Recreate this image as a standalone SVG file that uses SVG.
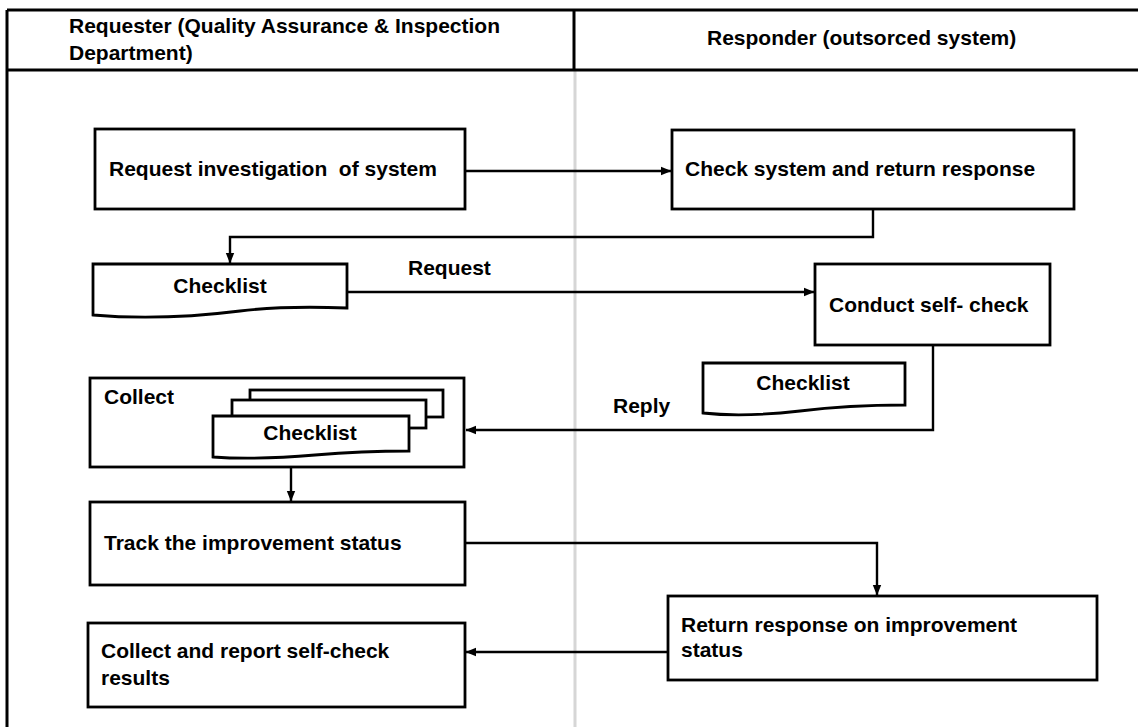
<svg xmlns="http://www.w3.org/2000/svg" width="1138" height="727" viewBox="0 0 1138 727">
  <style>
    .box { fill: #ffffff; stroke: #000000; stroke-width: 2.8; }
    .frame { fill: none; stroke: #000000; stroke-width: 3; }
    .lane { fill: none; stroke: #d6d6d6; stroke-width: 3; }
    .conn { fill: none; stroke: #000000; stroke-width: 2.4; }
    .arrow { marker-end: url(#head); }
    text { font-family: "Liberation Sans", Arial, sans-serif; font-weight: bold; font-size: 21px; fill: #000000; white-space: pre; }
  </style>
  <defs>
    <marker id="head" markerUnits="userSpaceOnUse" markerWidth="12" markerHeight="10" refX="10" refY="5" orient="auto">
      <path d="M0,0.8 L10.5,5 L0,9.2 Z" fill="#000000"/>
    </marker>
  </defs>

  <rect width="1138" height="727" fill="#ffffff"/>

  <!-- swimlane frame -->
  <g id="lanes">
    <line class="lane" x1="575" y1="70" x2="575" y2="727"/>
    <line class="frame" x1="7" y1="10" x2="1138" y2="10"/>
    <line class="frame" x1="7" y1="70" x2="1138" y2="70"/>
    <line class="frame" x1="7" y1="10" x2="7" y2="727"/>
    <line class="frame" x1="574" y1="10" x2="574" y2="70"/>
    <text x="69" y="33">Requester (Quality Assurance &amp; Inspection</text>
    <text x="69" y="60">Department)</text>
    <text x="707" y="45">Responder (outsorced system)</text>
  </g>

  <!-- connectors -->
  <g id="connectors">
    <path class="conn arrow" d="M465,171 H671"/>
    <path class="conn arrow" d="M873,209 V237 H230 V263"/>
    <path class="conn arrow" d="M347,292 H814"/>
    <path class="conn arrow" d="M933,345 V430 H466"/>
    <path class="conn arrow" d="M291,468 V501"/>
    <path class="conn arrow" d="M465,543 H877 V595"/>
    <path class="conn arrow" d="M668,652 H466"/>
    <text x="408" y="275">Request</text>
    <text x="613" y="413">Reply</text>
  </g>

  <g id="request-investigation">
    <rect class="box" x="95" y="129" width="370" height="80"/>
    <text x="109" y="176" xml:space="preserve">Request investigation  of system</text>
  </g>

  <g id="check-system">
    <rect class="box" x="672" y="130" width="402" height="79"/>
    <text x="685" y="176">Check system and return response</text>
  </g>

  <g id="checklist-request">
    <path class="box" d="M93,264 H347 V308 C320,307 280,306 240,311 C200,316 150,320 93,315 Z"/>
    <text x="220" y="293" text-anchor="middle">Checklist</text>
  </g>

  <g id="conduct-self-check">
    <rect class="box" x="815" y="264" width="235" height="81"/>
    <text x="829" y="312">Conduct self- check</text>
  </g>

  <g id="checklist-reply">
    <path class="box" d="M703,363 H905 V405 C880,405 840,406 800,411 C765,415 730,416 703,413 Z"/>
    <text x="803" y="390" text-anchor="middle">Checklist</text>
  </g>

  <g id="collect">
    <rect class="box" x="90" y="378" width="374" height="89"/>
    <text x="104" y="404">Collect</text>
    <rect class="box" x="250" y="390" width="193" height="27"/>
    <rect class="box" x="232" y="400" width="194" height="28"/>
    <path class="box" d="M213,416 H409 V451 C385,451 350,452 315,455 C280,458 240,459 213,457 Z"/>
    <text x="310" y="440" text-anchor="middle">Checklist</text>
  </g>

  <g id="track-improvement">
    <rect class="box" x="90" y="502" width="375" height="83"/>
    <text x="104" y="550">Track the improvement status</text>
  </g>

  <g id="return-response">
    <rect class="box" x="668" y="596" width="429" height="84"/>
    <text x="681" y="632">Return response on improvement</text>
    <text x="681" y="657">status</text>
  </g>

  <g id="collect-report">
    <rect class="box" x="88" y="623" width="377" height="84"/>
    <text x="101" y="658">Collect and report self-check</text>
    <text x="101" y="685">results</text>
  </g>
</svg>
